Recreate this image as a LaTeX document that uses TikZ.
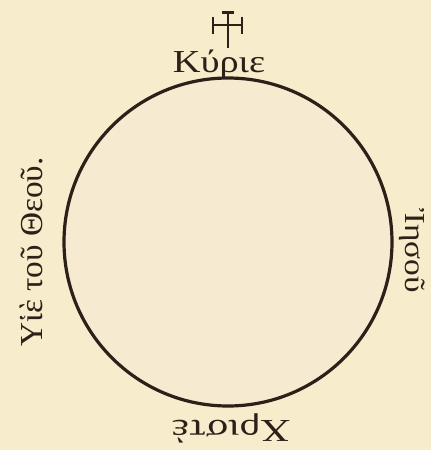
\documentclass[tikz,border=0pt]{standalone}
\usepackage{fontspec}
\usepackage{graphicx}
\setmainfont{Liberation Serif}
\definecolor{paper}{HTML}{F7EDCC}
\definecolor{innerpaper}{HTML}{F6EBD0}
\definecolor{ink}{HTML}{2B2118}
\begin{document}
\begin{tikzpicture}[x=1pt,y=-1pt,
  lbl/.style={text=ink, inner sep=0pt, font=\fontsize{32}{32}\selectfont},
  crossline/.style={draw=ink, line width=2.4pt}]
\fill[paper] (0,0) rectangle (431,450);
\useasboundingbox (0,0) rectangle (431,450);
\node[draw=ink, fill=innerpaper, line width=3.2pt, circle, minimum size=328pt, inner sep=0pt] (ring) at (228,242) {};
% cross
\draw[crossline] (228,12) -- (228,48);
\draw[crossline] (213,25) -- (242,25);
\draw[crossline] (213,17) -- (213,34);
\draw[crossline] (242,17) -- (242,34);
\draw[crossline] (222,12.5) -- (234,12.5);
% labels
\node[lbl, anchor=base] (kyrie) at (219,72) {\scalebox{1.2}[1]{Κύριε}};
\node[lbl, rotate=-90, font=\fontsize{29}{29}\selectfont] (iesou) at (412,251) {\scalebox{1.15}[1]{Ἰησοῦ}};
\node[lbl, rotate=180] (christe) at (231,428) {\scalebox{1.3}[1]{Χριστὲ}};
\node[lbl, rotate=90] (yie) at (31,252) {\scalebox{1.04}[1]{Υἱὲ τοῦ Θεοῦ.}};
\end{tikzpicture}
\end{document}
